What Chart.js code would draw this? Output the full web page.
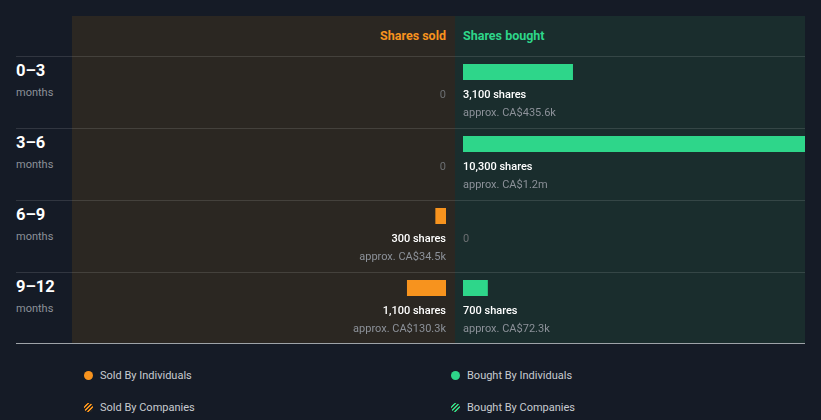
<!DOCTYPE html>
<html>
<head>
<meta charset="utf-8">
<script src="https://cdn.jsdelivr.net/npm/chart.js@4/dist/chart.umd.min.js"></script>
<style>
  html, body { margin: 0; padding: 0; }
  body { width: 821px; height: 420px; background: #151b26; position: relative; overflow: hidden; font-family: Roboto, "Noto Sans", sans-serif; }
  .abs { position: absolute; }
  .panel-sold { left: 72px; top: 16px; width: 383px; height: 327px; background: #2b2722; }
  .panel-bought { left: 455px; top: 16px; width: 350px; height: 327px; background: #1a2d2d; }
  .sep { left: 16px; width: 789px; height: 1px; background: rgba(255,255,255,0.12); }
  .bottom { left: 16px; top: 343px; width: 789px; height: 1px; background: #9ea3a8; }
  .hdr { font-size: 12.5px; font-weight: 700; height: 20px; line-height: 20px; top: 26px; }
  .rowlab { left: 16px; font-size: 16.5px; font-weight: 700; color: #ffffff; height: 20px; line-height: 20px; }
  .rowsub { left: 16px; font-size: 11px; color: #8c9199; height: 14px; line-height: 14px; }
  .leg { font-size: 11px; color: #c8cbd0; height: 14px; line-height: 14px; }
  .dot { width: 9px; height: 9px; border-radius: 50%; }
  canvas { position: absolute; }
</style>
</head>
<body>
<div class="abs panel-sold"></div>
<div class="abs panel-bought"></div>
<div id="seps"></div>
<div class="abs bottom"></div>
<div class="abs hdr" style="right:375px; color:#f7931e;">Shares sold</div>
<div class="abs hdr" style="left:463px; color:#2ed68a;">Shares bought</div>
<div id="rowlabels"></div>
<canvas id="sold" width="383" height="328" style="left:72px; top:16px;"></canvas>
<canvas id="bought" width="350" height="328" style="left:455px; top:16px;"></canvas>
<div id="legend"></div>
<script>
// ---- data ----
const rows = ["0–3", "3–6", "6–9", "9–12"];
const rowUnit = "months";
const soldShares = [0, 0, 300, 1100];
const soldValue = ["", "", "CA$34.5k", "CA$130.3k"];
const boughtShares = [3100, 10300, 0, 700];
const boughtValue = ["CA$435.6k", "CA$1.2m", "", "CA$72.3k"];
const legendItems = ["Sold By Individuals", "Sold By Companies", "Bought By Individuals", "Bought By Companies"];

const ORANGE = "#f7931e";
const GREEN = "#2ed68a";
const ROW_TOP = 56, ROW_H = 72;

// separators and row labels
const seps = document.getElementById("seps");
const rl = document.getElementById("rowlabels");
rows.forEach((r, i) => {
  const top = ROW_TOP + i * ROW_H;
  const s = document.createElement("div");
  s.className = "abs sep"; s.style.top = top + "px"; seps.appendChild(s);
  const a = document.createElement("div");
  a.className = "abs rowlab"; a.style.top = (top + 5) + "px"; a.textContent = r; rl.appendChild(a);
  const b = document.createElement("div");
  b.className = "abs rowsub"; b.style.top = (top + 30) + "px"; b.textContent = rowUnit; rl.appendChild(b);
});

// legend
const leg = document.getElementById("legend");
const legPos = [[88, 100, 375], [88, 100, 407], [455, 467, 375], [455, 467, 407]];
legendItems.forEach((t, i) => {
  const [dx, tx, cy] = legPos[i];
  const col = i < 2 ? ORANGE : GREEN;
  const d = document.createElement("div");
  d.className = "abs dot";
  d.style.left = (dx - 4.5) + "px"; d.style.top = (cy - 4.5) + "px";
  if (i % 2 === 0) d.style.background = col;
  else d.style.background = `repeating-linear-gradient(-45deg, ${col} 0px, ${col} 1.5px, #2a2620 1.5px, #2a2620 3px)`;
  leg.appendChild(d);
  const l = document.createElement("div");
  l.className = "abs leg"; l.style.left = tx + "px"; l.style.top = (cy - 6) + "px"; l.textContent = t;
  leg.appendChild(l);
});

const labelPlugin = {
  id: "barLabels",
  afterDatasetsDraw(chart, args, opts) {
    const ctx = chart.ctx;
    const meta = chart.getDatasetMeta(0);
    const xs = chart.scales.x;
    const x0 = xs.getPixelForValue(0);
    const vals = chart.data.datasets[0].data;
    ctx.save();
    ctx.textAlign = opts.align;
    ctx.textBaseline = "middle";
    meta.data.forEach((bar, i) => {
      const y = bar.y;
      const v = vals[i];
      if (v > 0) {
        ctx.fillStyle = "#ffffff";
        ctx.font = "500 11px Roboto, sans-serif";
        ctx.fillText(v.toLocaleString("en-US") + " shares", x0, y + 23);
        ctx.fillStyle = "#8c9199";
        ctx.font = "400 11px Roboto, sans-serif";
        ctx.fillText("approx. " + opts.values[i], x0, y + 41);
      } else {
        ctx.fillStyle = "#6c6f72";
        ctx.font = "400 11px Roboto, sans-serif";
        ctx.fillText("0", x0, y + 23);
      }
    });
    ctx.restore();
  }
};

function makeChart(id, data, color, reverse, max, padding, values, align) {
  return new Chart(document.getElementById(id), {
    type: "bar",
    data: {
      labels: rows,
      datasets: [{
        data: data,
        backgroundColor: (c) => (c.raw > 0 ? color : "rgba(0,0,0,0)"),
        borderWidth: 0,
        inflateAmount: 0,
        barThickness: 16
      }]
    },
    options: {
      indexAxis: "y",
      responsive: false,
      animation: false,
      devicePixelRatio: 1,
      layout: { padding: padding },
      plugins: {
        legend: { display: false },
        tooltip: { enabled: false },
        barLabels: { align: align, values: values }
      },
      scales: {
        y: { type: "category", display: false, offset: true },
        x: { type: "linear", display: false, min: 0, max: max, reverse: reverse }
      }
    },
    plugins: [labelPlugin]
  });
}

makeChart("sold", soldShares, ORANGE, true, 10540, { top: 20, bottom: 20, left: 0, right: 9 }, soldValue, "right");
makeChart("bought", boughtShares, GREEN, false, 9640, { top: 20, bottom: 20, left: 8, right: 0 }, boughtValue, "left");
</script>
</body>
</html>
